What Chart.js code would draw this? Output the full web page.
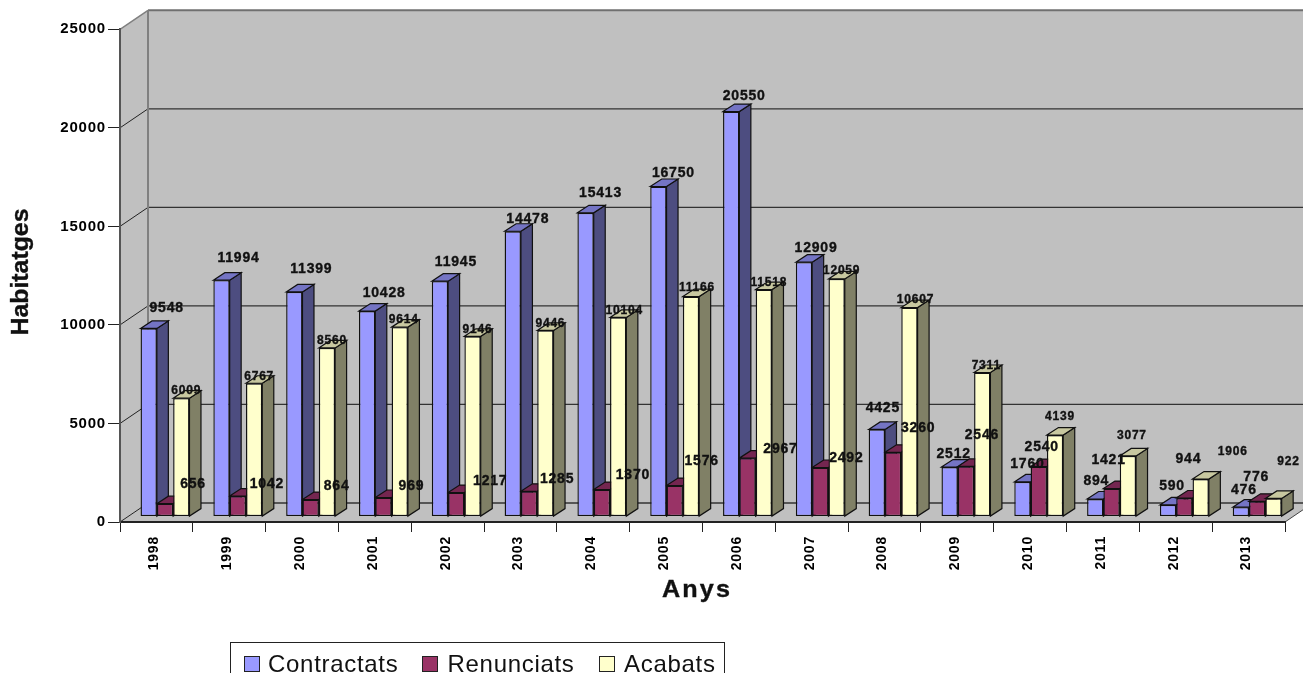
<!DOCTYPE html>
<html>
<head>
<meta charset="utf-8">
<title>Habitatges</title>
<script src="https://cdn.jsdelivr.net/npm/chart.js@4/dist/chart.umd.js"></script>
<style>
  html, body { margin: 0; padding: 0; background: #fff; overflow: hidden; }
  canvas { display: block; }
</style>
</head>
<body>
<canvas id="myChart" width="1303" height="673"></canvas>
<script>
var anys = ["1998","1999","2000","2001","2002","2003","2004","2005","2006","2007","2008","2009","2010","2011","2012","2013"];
var contractats = [9548,11994,11399,10428,11945,14478,15413,16750,20550,12909,4425,2512,1760,894,590,476];
var renunciats = [656,1042,864,969,1217,1285,1370,1576,2967,2492,3260,2546,2540,1421,944,776];
var acabats = [6009,6767,8560,9614,9146,9446,10104,11166,11518,12059,10607,7311,4139,3077,1906,922];
var yTicks = [0,5000,10000,15000,20000,25000];

// hand nudges for the value labels, from the top centre of each bar
var contractatsDx = [18,17,17,17,16,15,15,15,13,12,6,4,5,1,4,3];
var contractatsDy = [-21,-23,-24,-19,-20,-13,-21,-14,-16,-15,-22,-14,-19,-19,-20,-18];
var renunciatsDx = [28,29,26,28,34,28,31,27,33,26,25,16,3,-3,4,-1];
var renunciatsDy = [-21,-13,-14,-12,-12,-13,-15,-25,-10,-10,-25,-32,-20,-29,-40,-25];
var acabatsDx = [5,5,5,4,5,5,6,6,5,5,6,4,5,4,32,15];
var acabatsDy = [-8,-8,-8,-8,-8,-8,-8,-10,-8,-9,-9,-8,-19,-21,-28,-38];

var series = [
   { label: "Contractats", data: contractats, front: "#9999ff", side: "#4d4d80", top: "#7474c4", dx: contractatsDx, dy: contractatsDy, size: 14 },
   { label: "Renunciats", data: renunciats, front: "#993366", side: "#4d1a33", top: "#742650", dx: renunciatsDx, dy: renunciatsDy, size: 14 },
   { label: "Acabats", data: acabats, front: "#ffffcc", side: "#808066", top: "#c8c8a0", dx: acabatsDx, dy: acabatsDy, size: 12 }
];

var FONT = '"Liberation Sans", Arial, sans-serif';

// depth of the box and of the bars, and where the bars stand on the floor
var boxX = 28, boxY = 19;
var barX = 11.5, barY = 7.5;
var floorX = 8.6, floorY = 5.4;

function poly(ctx, pts, fill, stroke, width) {
   ctx.beginPath();
   ctx.moveTo(pts[0][0], pts[0][1]);
   for (var i = 1; i < pts.length; i++) ctx.lineTo(pts[i][0], pts[i][1]);
   ctx.closePath();
   ctx.fillStyle = fill;
   ctx.fill();
   if (stroke) {
      ctx.strokeStyle = stroke;
      ctx.lineWidth = width || 1;
      ctx.stroke();
   }
}

function seg(ctx, x1, y1, x2, y2, color, width) {
   ctx.beginPath();
   ctx.moveTo(x1, y1);
   ctx.lineTo(x2, y2);
   ctx.strokeStyle = color;
   ctx.lineWidth = width;
   ctx.stroke();
}

// bold text with a hair of stroke, stretched sideways like the old office charts
function heavyText(ctx, text, x, y, rot, stretch) {
   ctx.save();
   ctx.translate(x, y);
   ctx.rotate(rot);
   ctx.scale(stretch, 1);
   ctx.fillText(text, 0, 0);
   ctx.lineWidth = 0.35;
   ctx.strokeStyle = ctx.fillStyle;
   ctx.strokeText(text, 0, 0);
   ctx.restore();
}

var box3d = {
   id: "box3d",
   beforeDraw: function(chart) {
      var ctx = chart.ctx, x = chart.scales.x, y = chart.scales.y;
      var l = x.left, r = x.right, t = y.getPixelForValue(25000), b = y.getPixelForValue(0);

      ctx.letterSpacing = "0.8px";

      // back wall, side wall, floor
      poly(ctx, [[l + boxX, t - boxY], [r + boxX, t - boxY], [r + boxX, b - boxY], [l + boxX, b - boxY]], "#c0c0c0");
      poly(ctx, [[l, t], [l + boxX, t - boxY], [l + boxX, b - boxY], [l, b]], "#c0c0c0");
      poly(ctx, [[l, b], [l + boxX, b - boxY], [r + boxX, b - boxY], [r, b]], "#c0c0c0");

      yTicks.forEach(function(v) {
         var py = y.getPixelForValue(v);
         if (v === 25000) return;
         seg(ctx, l, py, l + boxX, py - boxY, "#222", 1);
         seg(ctx, l + boxX, py - boxY, r + boxX, py - boxY, "#333", 1.3);
      });

      seg(ctx, l, t, l + boxX, t - boxY, "#808080", 1.5);
      seg(ctx, l + boxX, t - boxY, r + boxX, t - boxY, "#707070", 2);
      seg(ctx, l + boxX, t - boxY, l + boxX, b - boxY, "#808080", 2);
      seg(ctx, r, b, r + boxX, b - boxY, "#444", 1);
   },
   beforeDatasetsDraw: function(chart) {
      var ctx = chart.ctx;
      ctx.save();
      ctx.translate(floorX, floorY * -1);

      // side and top faces go first so the front faces cover them
      anys.forEach(function(a, i) {
         series.forEach(function(s, n) {
            var bar = chart.getDatasetMeta(n).data[i];
            var x2 = bar.x + bar.width / 2, x1 = bar.x - bar.width / 2;
            poly(ctx, [[x2, bar.y], [x2 + barX, bar.y - barY], [x2 + barX, bar.base - barY], [x2, bar.base]], s.side, "#111", 1.2);
            poly(ctx, [[x1, bar.y], [x1 + barX, bar.y - barY], [x2 + barX, bar.y - barY], [x2, bar.y]], s.top, "#111", 1.2);
         });
      });
   },
   afterDatasetsDraw: function(chart) {
      var ctx = chart.ctx;
      ctx.restore();

      // value labels
      ctx.fillStyle = "#111";
      ctx.textAlign = "center";
      ctx.textBaseline = "middle";
      series.forEach(function(s, n) {
         ctx.font = "bold " + s.size + "px " + FONT;
         s.data.forEach(function(v, i) {
            var bar = chart.getDatasetMeta(n).data[i];
            heavyText(ctx, String(v), bar.x + floorX + s.dx[i], bar.y - floorY + s.dy[i] + 1, 0, 1);
         });
      });
   },
   afterDraw: function(chart) {
      var ctx = chart.ctx;

      // axis titles
      ctx.save();
      ctx.fillStyle = "#111";
      ctx.textAlign = "center";
      ctx.textBaseline = "middle";
      ctx.letterSpacing = "0px";
      ctx.font = "bold 23px " + FONT;
      heavyText(ctx, "Habitatges", 22, 272, -Math.PI / 2, 1.08);
      ctx.letterSpacing = "2px";
      ctx.font = "bold 24px " + FONT;
      heavyText(ctx, "Anys", 697, 590, 0, 1.05);
      ctx.restore();

      // legend
      ctx.save();
      ctx.strokeStyle = "#222";
      ctx.lineWidth = 1;
      ctx.strokeRect(230.5, 642.5, 494, 40);
      var boxes = [244.5, 422.5, 599.5];
      var texts = [268, 447.5, 624];
      ctx.font = "24px " + FONT;
      ctx.letterSpacing = "0.7px";
      ctx.textAlign = "left";
      ctx.textBaseline = "alphabetic";
      series.forEach(function(s, n) {
         ctx.fillStyle = s.front;
         ctx.fillRect(boxes[n], 656.5, 15, 15);
         ctx.strokeStyle = "#222";
         ctx.strokeRect(boxes[n], 656.5, 15, 15);
         ctx.fillStyle = "#111";
         ctx.fillText(s.label, texts[n], 672);
      });
      ctx.restore();
   }
};

var ctx = document.getElementById("myChart").getContext("2d");
var myChart = new Chart(ctx, {
   type: "bar",
   plugins: [box3d],
   data: {
      labels: anys,
      datasets: series.map(function(s) {
         return {
            label: s.label,
            data: s.data,
            backgroundColor: s.front,
            borderColor: "#111",
            borderWidth: 1.4,
            borderSkipped: false,
            categoryPercentage: 0.672,
            barPercentage: 1,
            clip: false
         };
      })
   },
   options: {
      responsive: false,
      animation: false,
      layout: { padding: { top: 29.3, right: 18, left: 0, bottom: 0 } },
      plugins: { legend: { display: false }, tooltip: { enabled: false } },
      scales: {
         x: {
            afterFit: function(scale) { scale.height = 151; },
            grid: { drawOnChartArea: false, tickLength: 10, tickColor: "#222", lineWidth: 1 },
            border: { color: "#222", width: 2 },
            ticks: {
               autoSkip: false,
               maxRotation: 90,
               minRotation: 90,
               padding: 4,
               labelOffset: -2,
               color: "#000",
               font: { family: FONT, size: 14, weight: "bold" }
            }
         },
         y: {
            min: 0,
            max: 25000,
            afterFit: function(scale) { scale.width = 120; },
            afterBuildTicks: function(scale) {
               scale.ticks = yTicks.map(function(v) { return { value: v }; });
            },
            grid: { drawOnChartArea: false, tickLength: 12, tickColor: "#222", lineWidth: 1 },
            border: { color: "#555", width: 2 },
            ticks: {
               padding: 2,
               color: "#000",
               font: { family: FONT, size: 15, weight: "bold" },
               callback: function(v) { return String(v); }
            }
         }
      }
   }
});
</script>
</body>
</html>
